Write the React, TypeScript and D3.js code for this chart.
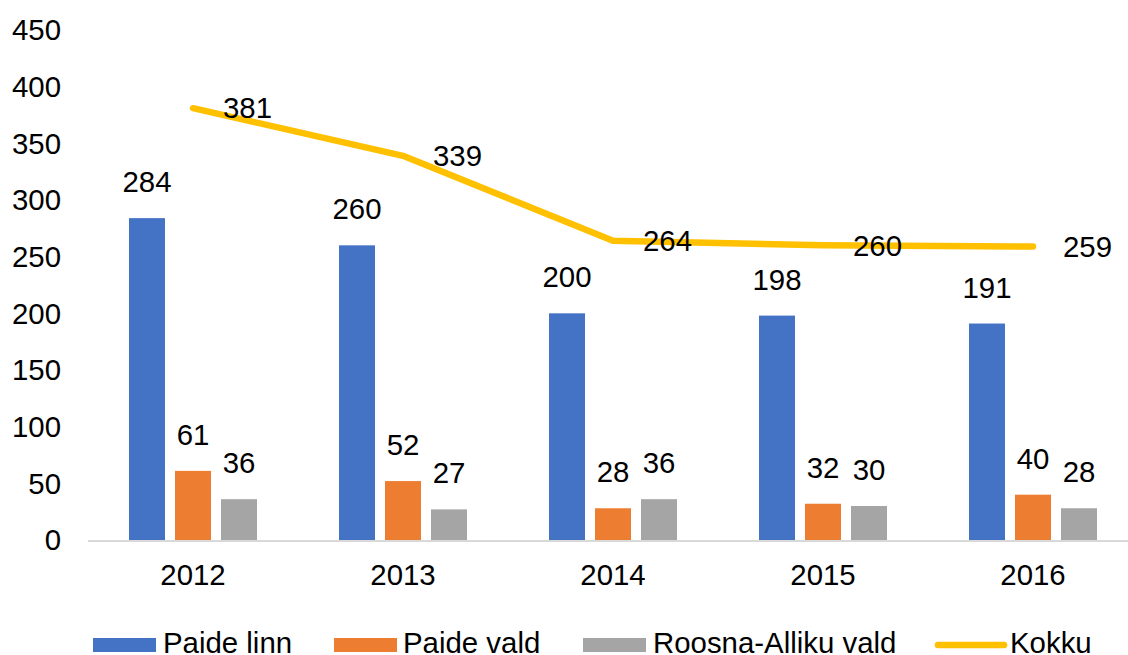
import React from "react";
import * as d3 from "d3";

const years = ["2012", "2013", "2014", "2015", "2016"];
const paideLinn = [284, 260, 200, 198, 191];
const paideVald = [61, 52, 28, 32, 40];
const roosna = [36, 27, 36, 30, 28];
const kokku = [381, 339, 264, 260, 259];
const yTicks = [0, 50, 100, 150, 200, 250, 300, 350, 400, 450];
const seriesNames = ["Paide linn", "Paide vald", "Roosna-Alliku vald", "Kokku"];
const colors = ["#4472C4", "#ED7D31", "#A5A5A5", "#FFC000"];

const W = 1128;
const H = 655;
const FONT = "'Liberation Sans', Arial, sans-serif";
const FS = 29.4;

export default function App() {
  const x = d3.scaleBand<string>().domain(years).range([88, 1138]);
  const y = d3.scaleLinear().domain([0, 450]).range([540, 30]);
  const barW = 36;
  const gap = 10;
  const bars = [paideLinn, paideVald, roosna];
  const line = d3
    .line<number>()
    .x((_, i) => x(years[i])! + x.bandwidth() / 2)
    .y((d) => y(d));

  const legend = [
    { sx: 93, tx: 163 },
    { sx: 334, tx: 403 },
    { sx: 583, tx: 653 },
    { sx: 938, tx: 1010 },
  ];

  return (
    <div style={{ position: "absolute", left: 0, top: 0 }}>
      <svg width={W} height={H} style={{ display: "block", background: "#fff" }} fontFamily={FONT}>
        {yTicks.map((t) => (
          <text key={t} x={61} y={y(t)} dy="0.35em" textAnchor="end" fontSize={FS} fill="#000">
            {t}
          </text>
        ))}
        <line x1={88} x2={W} y1={y(0) + 1} y2={y(0) + 1} stroke="#D9D9D9" strokeWidth={2} />
        {bars.map((vals, si) =>
          vals.map((v, i) => {
            const cx = x(years[i])! + x.bandwidth() / 2;
            const bx = cx - (3 * barW + 2 * gap) / 2 + si * (barW + gap);
            return (
              <g key={`${si}-${i}`}>
                <rect x={bx} y={y(v)} width={barW} height={y(0) - y(v)} fill={colors[si]} />
                <text x={bx + barW / 2} y={y(v) - 26} textAnchor="middle" fontSize={FS} fill="#000">
                  {v}
                </text>
              </g>
            );
          })
        )}
        <path d={line(kokku) || ""} fill="none" stroke={colors[3]} strokeWidth={6.5} strokeLinejoin="round" strokeLinecap="round" />
        {kokku.map((v, i) => (
          <text key={i} x={x(years[i])! + x.bandwidth() / 2 + 30} y={y(v)} dy="0.35em" textAnchor="start" fontSize={FS} fill="#000">
            {v}
          </text>
        ))}
        {years.map((yr) => (
          <text key={yr} x={x(yr)! + x.bandwidth() / 2} y={585} textAnchor="middle" fontSize={FS} fill="#000">
            {yr}
          </text>
        ))}
        {seriesNames.map((n, i) => (
          <g key={n}>
            {i < 3 ? (
              <rect x={legend[i].sx} y={638} width={63} height={14} fill={colors[i]} />
            ) : (
              <line x1={legend[i].sx} x2={legend[i].sx + 66} y1={645} y2={645} stroke={colors[i]} strokeWidth={6.5} strokeLinecap="round" />
            )}
            <text x={legend[i].tx} y={653} fontSize={FS} fill="#000">
              {n}
            </text>
          </g>
        ))}
      </svg>
    </div>
  );
}
